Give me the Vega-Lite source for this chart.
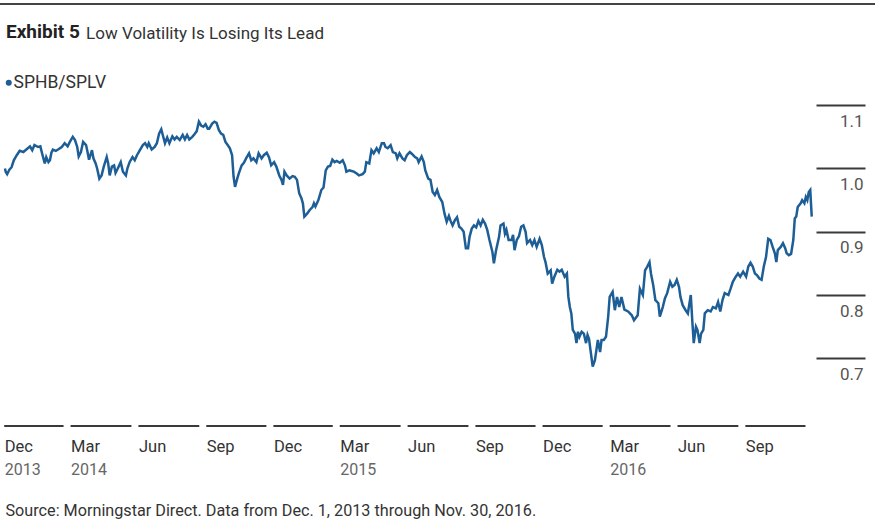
{
  "$schema": "https://vega.github.io/schema/vega-lite/v6.json",
  "width": 875,
  "height": 422,
  "autosize": {"type": "none"},
  "padding": {"top": 4, "left": 0, "right": 0, "bottom": 104},
  "background": "white",
  "config": {
    "view": {"stroke": null},
    "font": "Roboto, sans-serif"
  },
  "title": {
    "text": "Exhibit 5",
    "subtitle": "\u200b\u00a0\u00a0\u00a0\u00a0\u00a0\u00a0\u00a0\u00a0\u00a0\u00a0\u00a0\u00a0\u00a0\u00a0\u00a0\u00a0\u00a0\u00a0\u00a0Low Volatility Is Losing Its Lead",
    "anchor": "start",
    "frame": "group",
    "offset": -54,
    "dx": 6,
    "fontSize": 19,
    "fontWeight": "bold",
    "color": "#222222",
    "subtitleFontSize": 17,
    "subtitleColor": "#333333",
    "subtitlePadding": -18,
    "baseline": "alphabetic"
  },
  "datasets": {
    "quarters": [
      {"start": "2013-12-01", "end": "2014-03-01"},
      {"start": "2014-03-01", "end": "2014-06-01"},
      {"start": "2014-06-01", "end": "2014-09-01"},
      {"start": "2014-09-01", "end": "2014-12-01"},
      {"start": "2014-12-01", "end": "2015-03-01"},
      {"start": "2015-03-01", "end": "2015-06-01"},
      {"start": "2015-06-01", "end": "2015-09-01"},
      {"start": "2015-09-01", "end": "2015-12-01"},
      {"start": "2015-12-01", "end": "2016-03-01"},
      {"start": "2016-03-01", "end": "2016-06-01"},
      {"start": "2016-06-01", "end": "2016-09-01"},
      {"start": "2016-09-01", "end": "2016-12-01"}
    ],
    "ratio": [
      {"d":"2013-12-02","v":1.000},{"d":"2013-12-03","v":0.995},{"d":"2013-12-05","v":0.991},{"d":"2013-12-08","v":0.998},{"d":"2013-12-11","v":1.002},{"d":"2013-12-14","v":1.013},{"d":"2013-12-18","v":1.021},{"d":"2013-12-22","v":1.028},{"d":"2013-12-27","v":1.026},{"d":"2013-12-31","v":1.030},
      {"d":"2014-01-05","v":1.035},{"d":"2014-01-08","v":1.029},{"d":"2014-01-11","v":1.037},{"d":"2014-01-16","v":1.034},{"d":"2014-01-19","v":1.035},{"d":"2014-01-22","v":1.021},{"d":"2014-01-25","v":1.008},{"d":"2014-01-27","v":1.018},{"d":"2014-01-30","v":1.010},
      {"d":"2014-02-01","v":1.013},{"d":"2014-02-03","v":1.025},{"d":"2014-02-05","v":1.030},{"d":"2014-02-09","v":1.028},{"d":"2014-02-12","v":1.030},{"d":"2014-02-17","v":1.034},{"d":"2014-02-21","v":1.040},{"d":"2014-02-25","v":1.035},{"d":"2014-02-28","v":1.042},
      {"d":"2014-03-04","v":1.050},{"d":"2014-03-07","v":1.045},{"d":"2014-03-10","v":1.034},{"d":"2014-03-12","v":1.019},{"d":"2014-03-15","v":1.026},{"d":"2014-03-18","v":1.042},{"d":"2014-03-22","v":1.037},{"d":"2014-03-24","v":1.026},{"d":"2014-03-26","v":1.014},{"d":"2014-03-30","v":1.029},
      {"d":"2014-04-01","v":1.016},{"d":"2014-04-04","v":1.008},{"d":"2014-04-06","v":1.000},{"d":"2014-04-09","v":0.984},{"d":"2014-04-12","v":0.989},{"d":"2014-04-15","v":1.003},{"d":"2014-04-19","v":1.018},{"d":"2014-04-21","v":1.008},{"d":"2014-04-23","v":0.989},{"d":"2014-04-26","v":1.003},{"d":"2014-04-29","v":1.005},
      {"d":"2014-05-01","v":0.993},{"d":"2014-05-04","v":1.000},{"d":"2014-05-08","v":1.010},{"d":"2014-05-11","v":0.995},{"d":"2014-05-15","v":0.989},{"d":"2014-05-17","v":1.000},{"d":"2014-05-20","v":1.010},{"d":"2014-05-24","v":1.018},{"d":"2014-05-27","v":1.013},{"d":"2014-05-30","v":1.021},
      {"d":"2014-06-03","v":1.029},{"d":"2014-06-07","v":1.037},{"d":"2014-06-10","v":1.040},{"d":"2014-06-13","v":1.034},{"d":"2014-06-15","v":1.040},{"d":"2014-06-19","v":1.030},{"d":"2014-06-23","v":1.034},{"d":"2014-06-26","v":1.040},{"d":"2014-06-29","v":1.055},
      {"d":"2014-07-02","v":1.062},{"d":"2014-07-04","v":1.053},{"d":"2014-07-07","v":1.040},{"d":"2014-07-10","v":1.049},{"d":"2014-07-13","v":1.040},{"d":"2014-07-17","v":1.051},{"d":"2014-07-20","v":1.046},{"d":"2014-07-23","v":1.050},{"d":"2014-07-27","v":1.045},{"d":"2014-07-31","v":1.053},
      {"d":"2014-08-03","v":1.046},{"d":"2014-08-06","v":1.053},{"d":"2014-08-09","v":1.046},{"d":"2014-08-13","v":1.050},{"d":"2014-08-16","v":1.054},{"d":"2014-08-19","v":1.059},{"d":"2014-08-22","v":1.074},{"d":"2014-08-25","v":1.068},{"d":"2014-08-28","v":1.066},{"d":"2014-08-31","v":1.070},
      {"d":"2014-09-03","v":1.063},{"d":"2014-09-05","v":1.063},{"d":"2014-09-09","v":1.071},{"d":"2014-09-12","v":1.074},{"d":"2014-09-15","v":1.072},{"d":"2014-09-18","v":1.061},{"d":"2014-09-21","v":1.055},{"d":"2014-09-24","v":1.053},{"d":"2014-09-27","v":1.042},{"d":"2014-09-30","v":1.037},
      {"d":"2014-10-03","v":1.032},{"d":"2014-10-06","v":1.021},{"d":"2014-10-08","v":0.987},{"d":"2014-10-10","v":0.971},{"d":"2014-10-13","v":0.984},{"d":"2014-10-15","v":0.992},{"d":"2014-10-19","v":1.005},{"d":"2014-10-22","v":1.009},{"d":"2014-10-25","v":1.016},{"d":"2014-10-29","v":1.024},
      {"d":"2014-11-01","v":1.013},{"d":"2014-11-04","v":1.016},{"d":"2014-11-08","v":1.010},{"d":"2014-11-11","v":1.024},{"d":"2014-11-15","v":1.016},{"d":"2014-11-18","v":1.021},{"d":"2014-11-22","v":1.025},{"d":"2014-11-25","v":1.018},{"d":"2014-11-28","v":1.005},
      {"d":"2014-12-02","v":1.010},{"d":"2014-12-05","v":1.003},{"d":"2014-12-09","v":0.989},{"d":"2014-12-12","v":0.982},{"d":"2014-12-14","v":0.974},{"d":"2014-12-16","v":0.995},{"d":"2014-12-19","v":0.989},{"d":"2014-12-23","v":0.984},{"d":"2014-12-27","v":0.988},{"d":"2014-12-30","v":0.987},
      {"d":"2015-01-02","v":0.982},{"d":"2015-01-05","v":0.961},{"d":"2015-01-08","v":0.953},{"d":"2015-01-10","v":0.945},{"d":"2015-01-12","v":0.924},{"d":"2015-01-16","v":0.929},{"d":"2015-01-19","v":0.934},{"d":"2015-01-23","v":0.939},{"d":"2015-01-25","v":0.945},{"d":"2015-01-27","v":0.940},{"d":"2015-01-31","v":0.950},
      {"d":"2015-02-02","v":0.958},{"d":"2015-02-04","v":0.966},{"d":"2015-02-07","v":0.970},{"d":"2015-02-10","v":0.997},{"d":"2015-02-13","v":1.003},{"d":"2015-02-16","v":1.004},{"d":"2015-02-19","v":1.014},{"d":"2015-02-22","v":1.010},{"d":"2015-02-25","v":1.012},
      {"d":"2015-03-01","v":1.009},{"d":"2015-03-05","v":1.013},{"d":"2015-03-08","v":1.005},{"d":"2015-03-10","v":0.995},{"d":"2015-03-14","v":0.997},{"d":"2015-03-17","v":0.996},{"d":"2015-03-20","v":0.995},{"d":"2015-03-24","v":0.992},{"d":"2015-03-27","v":0.989},
      {"d":"2015-04-01","v":0.991},{"d":"2015-04-04","v":0.995},{"d":"2015-04-06","v":1.010},{"d":"2015-04-10","v":1.008},{"d":"2015-04-13","v":1.029},{"d":"2015-04-16","v":1.024},{"d":"2015-04-20","v":1.032},{"d":"2015-04-23","v":1.026},{"d":"2015-04-27","v":1.040},{"d":"2015-04-30","v":1.040},
      {"d":"2015-05-02","v":1.034},{"d":"2015-05-05","v":1.032},{"d":"2015-05-09","v":1.037},{"d":"2015-05-12","v":1.026},{"d":"2015-05-16","v":1.024},{"d":"2015-05-18","v":1.016},{"d":"2015-05-21","v":1.024},{"d":"2015-05-25","v":1.016},{"d":"2015-05-28","v":1.013},{"d":"2015-05-31","v":1.021},
      {"d":"2015-06-04","v":1.026},{"d":"2015-06-07","v":1.023},{"d":"2015-06-11","v":1.018},{"d":"2015-06-14","v":1.016},{"d":"2015-06-16","v":1.010},{"d":"2015-06-20","v":1.019},{"d":"2015-06-23","v":1.010},{"d":"2015-06-25","v":0.997},{"d":"2015-06-29","v":0.984},
      {"d":"2015-07-02","v":0.982},{"d":"2015-07-05","v":0.963},{"d":"2015-07-08","v":0.958},{"d":"2015-07-11","v":0.966},{"d":"2015-07-14","v":0.955},{"d":"2015-07-18","v":0.947},{"d":"2015-07-21","v":0.929},{"d":"2015-07-24","v":0.916},{"d":"2015-07-27","v":0.925},{"d":"2015-07-29","v":0.918},
      {"d":"2015-08-01","v":0.910},{"d":"2015-08-04","v":0.918},{"d":"2015-08-07","v":0.923},{"d":"2015-08-10","v":0.908},{"d":"2015-08-13","v":0.905},{"d":"2015-08-16","v":0.900},{"d":"2015-08-19","v":0.874},{"d":"2015-08-22","v":0.874},{"d":"2015-08-24","v":0.892},{"d":"2015-08-27","v":0.905},{"d":"2015-08-30","v":0.910},
      {"d":"2015-09-02","v":0.907},{"d":"2015-09-05","v":0.917},{"d":"2015-09-08","v":0.910},{"d":"2015-09-11","v":0.919},{"d":"2015-09-14","v":0.913},{"d":"2015-09-17","v":0.903},{"d":"2015-09-20","v":0.887},{"d":"2015-09-24","v":0.868},{"d":"2015-09-26","v":0.850},{"d":"2015-09-29","v":0.871},
      {"d":"2015-10-03","v":0.892},{"d":"2015-10-05","v":0.910},{"d":"2015-10-09","v":0.913},{"d":"2015-10-11","v":0.897},{"d":"2015-10-13","v":0.903},{"d":"2015-10-16","v":0.887},{"d":"2015-10-20","v":0.887},{"d":"2015-10-22","v":0.895},{"d":"2015-10-24","v":0.871},{"d":"2015-10-27","v":0.887},{"d":"2015-10-30","v":0.893},
      {"d":"2015-11-02","v":0.908},{"d":"2015-11-05","v":0.910},{"d":"2015-11-08","v":0.900},{"d":"2015-11-10","v":0.882},{"d":"2015-11-14","v":0.887},{"d":"2015-11-17","v":0.879},{"d":"2015-11-20","v":0.887},{"d":"2015-11-23","v":0.876},{"d":"2015-11-27","v":0.889},{"d":"2015-11-30","v":0.879},
      {"d":"2015-12-03","v":0.860},{"d":"2015-12-05","v":0.852},{"d":"2015-12-08","v":0.834},{"d":"2015-12-12","v":0.839},{"d":"2015-12-14","v":0.818},{"d":"2015-12-17","v":0.829},{"d":"2015-12-21","v":0.840},{"d":"2015-12-24","v":0.837},{"d":"2015-12-27","v":0.840},{"d":"2015-12-31","v":0.829},
      {"d":"2016-01-03","v":0.834},{"d":"2016-01-05","v":0.797},{"d":"2016-01-07","v":0.781},{"d":"2016-01-09","v":0.771},{"d":"2016-01-11","v":0.745},{"d":"2016-01-14","v":0.739},{"d":"2016-01-16","v":0.724},{"d":"2016-01-18","v":0.742},{"d":"2016-01-20","v":0.734},{"d":"2016-01-23","v":0.742},{"d":"2016-01-26","v":0.739},{"d":"2016-01-29","v":0.724},{"d":"2016-01-31","v":0.737},
      {"d":"2016-02-02","v":0.731},{"d":"2016-02-04","v":0.713},{"d":"2016-02-07","v":0.687},{"d":"2016-02-10","v":0.697},{"d":"2016-02-12","v":0.713},{"d":"2016-02-14","v":0.729},{"d":"2016-02-17","v":0.710},{"d":"2016-02-19","v":0.729},{"d":"2016-02-22","v":0.729},{"d":"2016-02-25","v":0.734},{"d":"2016-02-28","v":0.766},
      {"d":"2016-03-01","v":0.797},{"d":"2016-03-05","v":0.805},{"d":"2016-03-08","v":0.776},{"d":"2016-03-11","v":0.797},{"d":"2016-03-14","v":0.781},{"d":"2016-03-17","v":0.797},{"d":"2016-03-21","v":0.777},{"d":"2016-03-26","v":0.774},{"d":"2016-03-31","v":0.768},
      {"d":"2016-04-03","v":0.760},{"d":"2016-04-08","v":0.768},{"d":"2016-04-11","v":0.810},{"d":"2016-04-15","v":0.800},{"d":"2016-04-18","v":0.839},{"d":"2016-04-21","v":0.845},{"d":"2016-04-24","v":0.852},{"d":"2016-04-26","v":0.834},{"d":"2016-04-29","v":0.816},
      {"d":"2016-05-02","v":0.792},{"d":"2016-05-06","v":0.787},{"d":"2016-05-08","v":0.766},{"d":"2016-05-12","v":0.781},{"d":"2016-05-15","v":0.795},{"d":"2016-05-18","v":0.803},{"d":"2016-05-22","v":0.821},{"d":"2016-05-25","v":0.813},{"d":"2016-05-28","v":0.816},{"d":"2016-05-31","v":0.824},
      {"d":"2016-06-03","v":0.813},{"d":"2016-06-05","v":0.797},{"d":"2016-06-08","v":0.784},{"d":"2016-06-12","v":0.776},{"d":"2016-06-15","v":0.771},{"d":"2016-06-19","v":0.800},{"d":"2016-06-21","v":0.760},{"d":"2016-06-23","v":0.724},{"d":"2016-06-26","v":0.750},{"d":"2016-06-28","v":0.745},
      {"d":"2016-07-01","v":0.724},{"d":"2016-07-03","v":0.739},{"d":"2016-07-06","v":0.745},{"d":"2016-07-08","v":0.771},{"d":"2016-07-12","v":0.776},{"d":"2016-07-16","v":0.774},{"d":"2016-07-19","v":0.781},{"d":"2016-07-23","v":0.779},{"d":"2016-07-26","v":0.789},{"d":"2016-07-29","v":0.774},
      {"d":"2016-08-01","v":0.792},{"d":"2016-08-04","v":0.803},{"d":"2016-08-09","v":0.800},{"d":"2016-08-12","v":0.810},{"d":"2016-08-15","v":0.821},{"d":"2016-08-19","v":0.829},{"d":"2016-08-22","v":0.834},{"d":"2016-08-25","v":0.829},{"d":"2016-08-29","v":0.837},
      {"d":"2016-09-02","v":0.829},{"d":"2016-09-05","v":0.845},{"d":"2016-09-08","v":0.851},{"d":"2016-09-11","v":0.845},{"d":"2016-09-14","v":0.834},{"d":"2016-09-17","v":0.831},{"d":"2016-09-20","v":0.826},{"d":"2016-09-23","v":0.824},{"d":"2016-09-26","v":0.845},{"d":"2016-09-29","v":0.860},
      {"d":"2016-10-02","v":0.889},{"d":"2016-10-05","v":0.887},{"d":"2016-10-08","v":0.876},{"d":"2016-10-11","v":0.866},{"d":"2016-10-13","v":0.852},{"d":"2016-10-15","v":0.871},{"d":"2016-10-19","v":0.876},{"d":"2016-10-22","v":0.882},{"d":"2016-10-25","v":0.874},{"d":"2016-10-27","v":0.866},{"d":"2016-10-30","v":0.863},
      {"d":"2016-11-02","v":0.865},{"d":"2016-11-05","v":0.887},{"d":"2016-11-07","v":0.921},{"d":"2016-11-09","v":0.924},{"d":"2016-11-11","v":0.939},{"d":"2016-11-15","v":0.945},{"d":"2016-11-17","v":0.950},{"d":"2016-11-20","v":0.945},{"d":"2016-11-22","v":0.955},{"d":"2016-11-24","v":0.950},{"d":"2016-11-26","v":0.963},{"d":"2016-11-28","v":0.966},{"d":"2016-11-30","v":0.924}
    ]
  },
  "layer": [
    {
      "data": {"values": [{"k": 1}]},
      "mark": {"type": "rule", "color": "#444444", "strokeWidth": 2},
      "encoding": {
        "y": {"datum": 1.26, "type": "quantitative", "scale": {"domain": [0.593, 1.26], "nice": false, "zero": false}, "axis": null}
      }
    },
    {
      "data": {"name": "quarters"},
      "mark": {"type": "rule", "color": "#3a3a3a", "strokeWidth": 2, "x2Offset": -7},
      "encoding": {
        "x": {
          "field": "start", "type": "temporal",
          "scale": {"type": "utc", "nice": false, "domain": [{"year": 2013, "month": 11, "date": 25, "hours": 7, "utc": true}, {"year": 2017, "month": 2, "date": 23, "hours": 19, "utc": true}]},
          "axis": {
            "orient": "bottom",
            "values": [{"year": 2013, "month": 12, "date": 1, "utc": true}, {"year": 2014, "month": 3, "date": 1, "utc": true}, {"year": 2015, "month": 3, "date": 1, "utc": true}, {"year": 2016, "month": 3, "date": 1, "utc": true}],
            "labelExpr": "utcFormat(datum.value, '%Y')",
            "domain": false, "ticks": false, "grid": false,
            "labelAlign": "left", "labelBaseline": "alphabetic", "labelPadding": 48,
            "labelFlush": false, "labelOverlap": false,
            "labelFontSize": 16, "labelColor": "#666666",
            "title": "Source: Morningstar Direct. Data from Dec. 1, 2013 through Nov. 30, 2016.",
            "titleX": 5, "titleY": 89, "titleAlign": "left", "titleBaseline": "alphabetic",
            "titleFontSize": 16.2, "titleFontWeight": "normal", "titleColor": "#333333"
          }
        },
        "x2": {"field": "end"},
        "y": {"datum": 0.593, "type": "quantitative", "axis": null}
      }
    },
    {
      "data": {"name": "ratio"},
      "mark": {"type": "line", "strokeWidth": 2.5, "interpolate": "linear"},
      "encoding": {
        "x": {
          "field": "d", "type": "temporal",
          "scale": {"type": "utc", "nice": false, "domain": [{"year": 2013, "month": 11, "date": 25, "hours": 7, "utc": true}, {"year": 2017, "month": 2, "date": 23, "hours": 19, "utc": true}]},
          "axis": {
            "orient": "bottom",
            "values": [{"year": 2013, "month": 12, "date": 1, "utc": true}, {"year": 2014, "month": 3, "date": 1, "utc": true}, {"year": 2014, "month": 6, "date": 1, "utc": true}, {"year": 2014, "month": 9, "date": 1, "utc": true}, {"year": 2014, "month": 12, "date": 1, "utc": true}, {"year": 2015, "month": 3, "date": 1, "utc": true}, {"year": 2015, "month": 6, "date": 1, "utc": true}, {"year": 2015, "month": 9, "date": 1, "utc": true}, {"year": 2015, "month": 12, "date": 1, "utc": true}, {"year": 2016, "month": 3, "date": 1, "utc": true}, {"year": 2016, "month": 6, "date": 1, "utc": true}, {"year": 2016, "month": 9, "date": 1, "utc": true}],
            "labelExpr": "utcFormat(datum.value, '%b')",
            "domain": false, "ticks": false, "grid": false,
            "labelAlign": "left", "labelBaseline": "alphabetic", "labelPadding": 25,
            "labelFlush": false, "labelOverlap": false,
            "labelFontSize": 16.5, "labelColor": "#333333",
            "title": null
          }
        },
        "y": {
          "field": "v", "type": "quantitative",
          "scale": {"domain": [0.593, 1.26], "nice": false, "zero": false},
          "axis": {
            "orient": "right", "offset": -59,
            "values": [0.7, 0.8, 0.9, 1.0, 1.1], "format": ".1f",
            "domain": false, "grid": false,
            "ticks": true, "tickSize": 49, "tickWidth": 2, "tickColor": "#3a3a3a",
            "labelAlign": "right", "labelPadding": -2, "labelBaseline": "alphabetic", "labelOffset": 21,
            "labelFontSize": 17, "labelColor": "#555555",
            "title": null
          }
        },
        "color": {
          "datum": "SPHB/SPLV", "type": "nominal",
          "scale": {"range": ["#1d5e96"]},
          "legend": {
            "orient": "none", "legendX": 0, "legendY": 70, "title": null,
            "symbolType": "circle", "symbolSize": 36, "symbolFillColor": "#1d5e96", "symbolStrokeColor": "#1d5e96", "symbolStrokeWidth": 0,
            "labelFontSize": 17.5, "labelColor": "#333333", "labelOffset": -4, "padding": 0
          }
        }
      }
    }
  ],
  "resolve": {"scale": {"x": "shared", "y": "shared"}, "axis": {"x": "independent", "y": "independent"}}
}
